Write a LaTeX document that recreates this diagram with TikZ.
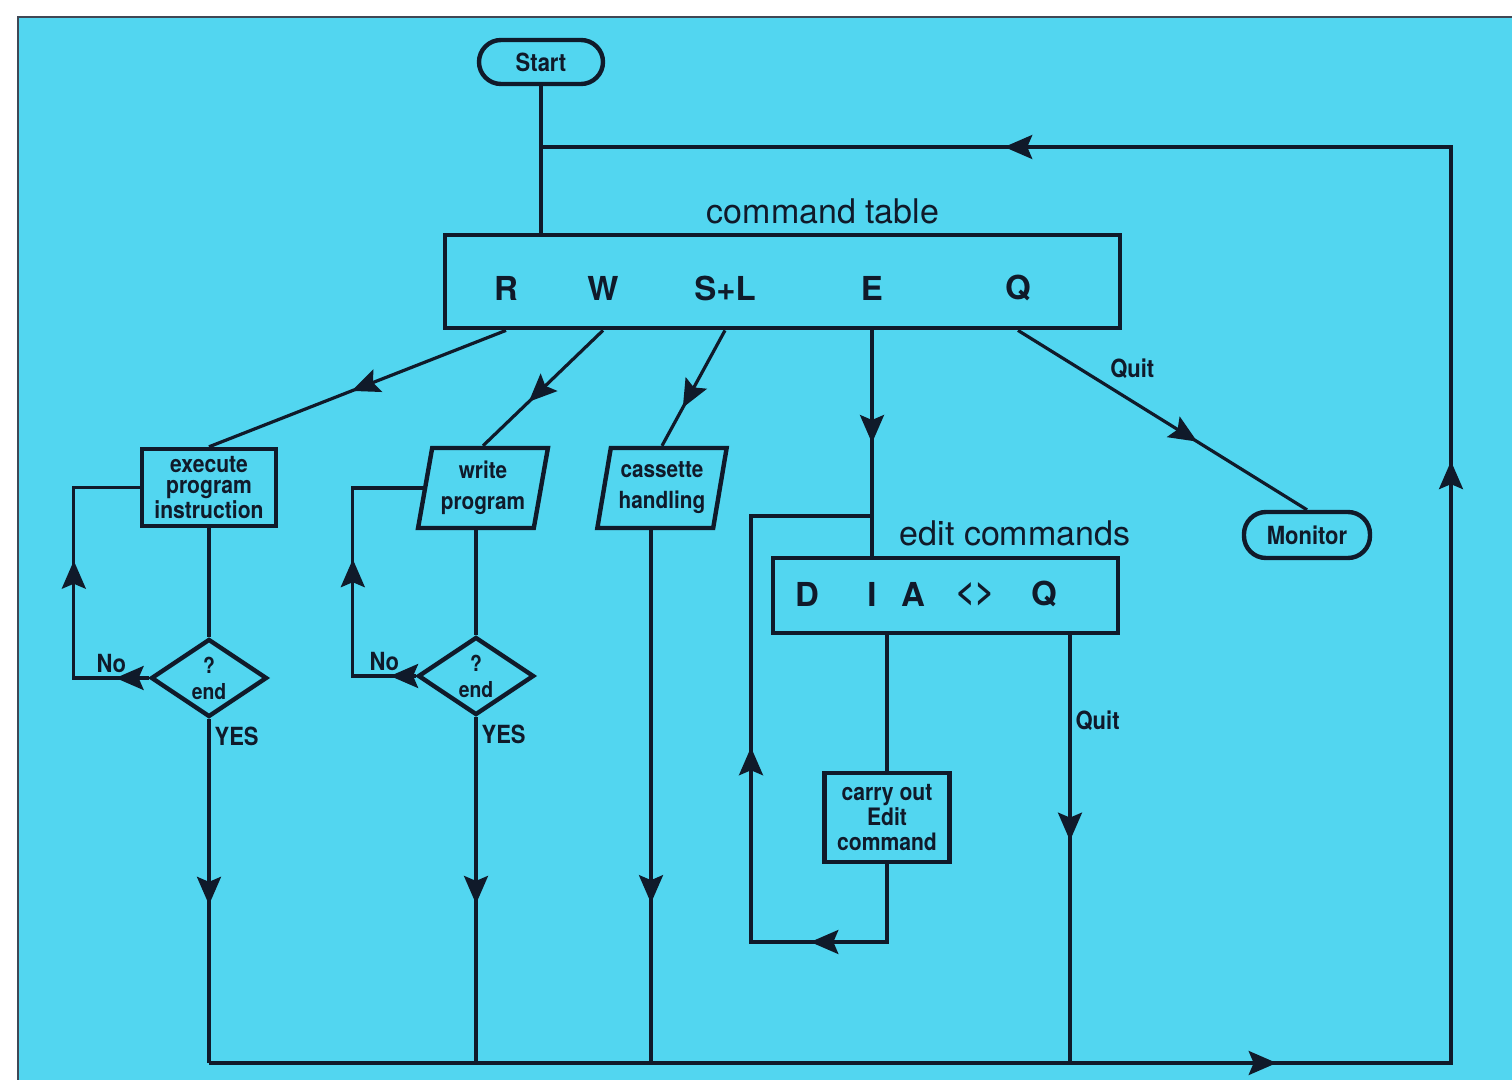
\documentclass[tikz,border=0pt]{standalone}
\usepackage{fontspec}
\setmainfont{TeX Gyre Heros}
\newfontfamily\condfont[FakeStretch=0.88]{TeX Gyre Heros}
\usetikzlibrary{arrows.meta,shapes.geometric,decorations.markings}

\definecolor{bgcyan}{RGB}{82,214,240}
\definecolor{ink}{RGB}{16,26,42}

\tikzset{
  line/.style={draw=ink, color=ink, line width=1.6pt},
  arr/.style={postaction={decorate, decoration={markings,
      mark=at position #1 with {\arrow{Stealth[length=14pt,width=12pt,inset=2.5pt]}}}}},
  box/.style={draw=ink, text=ink, line width=2.2pt, inner sep=1pt, align=center,
    font=\condfont\bfseries\fontsize{12}{11}\selectfont},
  pill/.style={box, rounded corners=11pt, minimum width=62pt, minimum height=22pt,
    font=\condfont\bfseries\fontsize{12.5}{14}\selectfont},
  slantbox/.style={box, trapezium, trapezium left angle=78, trapezium right angle=102,
    trapezium stretches=true, minimum width=65pt, minimum height=40pt,
    font=\condfont\bfseries\fontsize{11.8}{15.5}\selectfont},
  test/.style={box, diamond, aspect=1.5, minimum width=58pt, minimum height=39pt,
    inner sep=0pt, font=\condfont\bfseries\fontsize{11}{13}\selectfont},
  cmdbox/.style={draw=ink, line width=2.4pt},
  keyletter/.style={text=ink, font=\bfseries\fontsize{16.5}{18}\selectfont},
  heading/.style={text=ink, font=\fontsize{17}{19}\selectfont},
  tag/.style={text=ink, inner sep=2pt, font=\condfont\bfseries\fontsize{12.5}{13}\selectfont}
}

\begin{document}
\begin{tikzpicture}[x=0.5pt, y=-0.5pt]
  \useasboundingbox (0,0) rectangle (1512,1080);
  \fill[white] (0,0) rectangle (1512,1080);
  \fill[bgcyan] (18,17) rectangle (1512,1080);
  \draw[ink!80, line width=1pt] (18,1080) -- (18,17) -- (1512,17);

  % start and command table
  \node[pill] (start) at (541,62) {Start};
  \node[heading] (cmdlabel) at (823,211) {command table};
  \node[cmdbox, minimum width=337.5pt, minimum height=46.5pt] (cmd) at (782.5,281.5) {};
  \node[keyletter] (kR) at (506,288) {R};
  \node[keyletter] (kW) at (603,288) {W};
  \node[keyletter] (kSL) at (725,288) {S+L};
  \node[keyletter] (kE) at (872,288) {E};
  \node[keyletter] (kQ) at (1018,288) {Q};

  % command routines
  \node[box, minimum width=67pt, minimum height=38.5pt,
    font=\condfont\bfseries\fontsize{12}{10.5}\selectfont] (exec) at (209,487.5)
    {execute\\program\\instruction};
  \node[slantbox] (write) at (483,488) {write\\program};
  \node[slantbox] (cas) at (662,488) {cassette\\handling};
  \node[test] (d1) at (209,678) {?\\end};
  \node[test] (d2) at (476,676) {?\\end};
  \node[pill, minimum width=63pt, minimum height=23pt] (mon) at (1307,535) {Monitor};

  % editor
  \node[heading] (editlabel) at (1015,533) {edit commands};
  \node[cmdbox, minimum width=172.5pt, minimum height=37.5pt] (edit) at (945.5,595.5) {};
  \node[keyletter] (eD) at (807,594) {D};
  \node[keyletter] (eI) at (872,594) {I};
  \node[keyletter] (eA) at (913,594) {A};
  \node[keyletter] (eLR) at (975,594) {<>};
  \node[keyletter] (eQ) at (1044,594) {Q};
  \node[box, minimum width=62.5pt, minimum height=44.5pt,
    font=\condfont\bfseries\fontsize{12}{12.3}\selectfont] (carry) at (887,817.5)
    {carry out\\Edit\\command};

  % return path
  \coordinate (bl) at (209,1063);
  \coordinate (br) at (1451,1063);
  \coordinate (tr) at (1451,147);
  \coordinate (jn) at (541,147);
  \coordinate (bc) at (651,1063);
  \coordinate (bq) at (1070,1063);
  \coordinate (eloop) at (751,942);
  \coordinate (ejoin) at (872,516);

  \draw[line] (start) -- (start |- cmd.north);
  \draw[line, arr=0.348, arr=0.601, arr=0.849] (bl) -- (br) -- (tr) -- (jn);

  % branches from the table
  \draw[line, arr=0.52] (kR |- cmd.south) -- (exec.north);
  \draw[line, arr=0.62] (kW |- cmd.south) -- (write.north);
  \draw[line, arr=0.67] (kSL |- cmd.south) -- (cas.north);
  \draw[line, arr=0.5] (kE |- cmd.south) -- (kE |- edit.north);
  \draw[line, arr=0.62] (kQ |- cmd.south) -- node[tag, pos=0.3, above right] (quit1) {Quit} (mon.north);

  % run and write loops
  \draw[line] (exec.south -| d1) -- (d1.north);
  \draw[line, arr=0.10, arr=0.58] (d1.west) -- node[tag, above] (no1) {No} ++(-75,0) |- (exec.west);
  \draw[line, arr=0.54] (d1.south) -- node[tag, pos=0.05, right] (yes1) {YES} (d1 |- bl);
  \draw[line] (d2 |- write.south) -- (d2.north);
  \draw[line, arr=0.08, arr=0.56] (d2.west) -- node[tag, above] (no2) {No} ++(-63,0) |- (write.west);
  \draw[line, arr=0.54] (d2.south) -- node[tag, pos=0.05, right] (yes2) {YES} (d2 |- bl);
  \draw[line, arr=0.70] (cas.south -| bc) -- (bc);

  % edit loop
  \draw[line] (carry |- edit.south) -- (carry.north);
  \draw[line, arr=0.203, arr=0.537] (carry.south) |- (eloop) |- (ejoin);
  \draw[line, arr=0.48] (bq |- edit.south) -- node[tag, pos=0.2, right] (quit2) {Quit} (bq);
\end{tikzpicture}
\end{document}
